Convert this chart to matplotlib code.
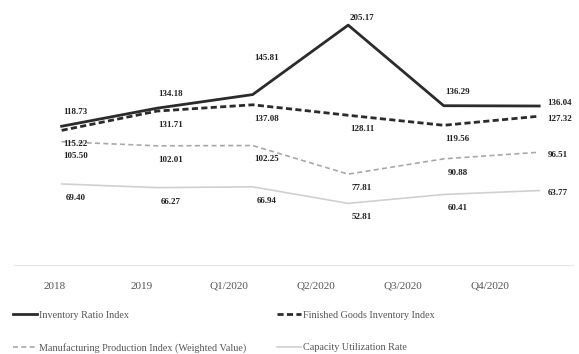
import matplotlib.pyplot as plt
import numpy as np

# data
periods = ['2018', '2019', 'Q1/2020', 'Q2/2020', 'Q3/2020', 'Q4/2020']
inventory_ratio = [118.73, 134.18, 145.81, 205.17, 136.29, 136.04]
finished_goods = [115.22, 131.71, 137.08, 128.11, 119.56, 127.32]
manufacturing = [105.50, 102.01, 102.25, 77.81, 90.88, 96.51]
capacity_util = [69.40, 66.27, 66.94, 52.81, 60.41, 63.77]

plt.rcParams['font.family'] = ['Liberation Serif', 'DejaVu Serif']

fig = plt.figure(figsize=(5.79, 3.54), dpi=100)
ax = fig.add_axes([0.024, 0.251, 0.965, 0.727])

x = np.arange(len(periods))

# (values, name, style, label offset in points: + is up)
series = [
    (inventory_ratio, 'Inventory Ratio Index', dict(color='#2b2b2b', lw=2.0, ls='-'), 10),
    (finished_goods, 'Finished Goods Inventory Index', dict(color='#2b2b2b', lw=2.0, ls=(0, (2.2, 1.2))), -10),
    (manufacturing, 'Manufacturing Production Index (Weighted Value)', dict(color='#a8a8a8', lw=1.2, ls=(0, (3, 2))), -10),
    (capacity_util, 'Capacity Utilization Rate', dict(color='#d0d0d0', lw=1.2, ls='-'), -10),
]

lines = []
for vals, name, style, dy in series:
    ln, = ax.plot(x, vals, label=name, **style)
    lines.append(ln)
    for i, v in enumerate(vals):
        if i == len(vals) - 1:
            # last point: label sits to the right
            ax.annotate(f'{v:.2f}', (x[i], v), xytext=(6, -2 if dy < 0 else 2), textcoords='offset points',
                        ha='left', va='center', fontsize=6.5, fontweight='bold', color='#222222')
        else:
            oy = dy
            if name == 'Inventory Ratio Index' and i == 2:
                oy = 26
            if name == 'Inventory Ratio Index' and i == 3:
                oy = 5
            ax.annotate(f'{v:.2f}', (x[i], v), xytext=(10, oy), textcoords='offset points',
                        ha='center', va='center', fontsize=6.5, fontweight='bold', color='#222222')

ax.set_xlim(-0.5, 5.35)
ax.set_ylim(0, 220)
ax.set_yticks([])
ax.set_xticks(x * 0.91 - 0.07)
ax.set_xticklabels(periods, fontsize=8, color='#555555')
ax.tick_params(axis='x', length=0, pad=12)
for s in ['top', 'right', 'left']:
    ax.spines[s].set_visible(False)
ax.spines['bottom'].set_color('#e6e6e6')
ax.spines['bottom'].set_linewidth(0.8)

# row-major order like the original legend
order = [0, 2, 1, 3]
fig.legend(handles=[lines[k] for k in order], loc='upper left', bbox_to_anchor=(0.015, 0.134), ncol=2,
           frameon=False, fontsize=7.3, handlelength=2.4, handletextpad=0.2,
           labelspacing=2.3, columnspacing=3.0, borderaxespad=0, labelcolor='#555555')

fig.savefig('out.png', dpi=100)
